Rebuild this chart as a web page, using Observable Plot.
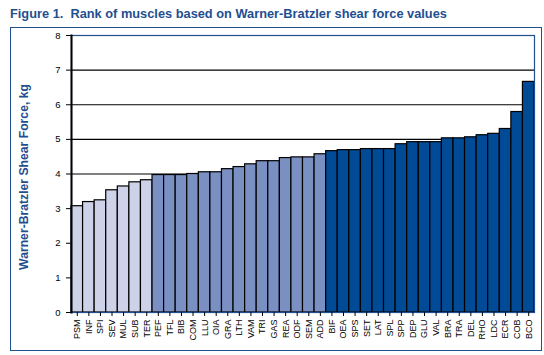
<!DOCTYPE html>
<html><head><meta charset="utf-8">
<script src="https://cdn.jsdelivr.net/npm/d3@7"></script>
<script src="https://cdn.jsdelivr.net/npm/@observablehq/plot@0.6"></script>
<style>
body{margin:0;background:#fff;font-family:"Liberation Sans",Arial,sans-serif;}
#title{position:absolute;left:10px;top:6px;font-weight:bold;font-size:12.8px;color:#1f4f8f;white-space:pre;}
#box{position:absolute;left:10px;top:27px;width:530px;height:322px;border:1.5px solid #1f4f8f;}
#box svg{position:absolute;left:0;top:0;}
</style></head>
<body>
<div id="title">Figure 1.  Rank of muscles based on Warner-Bratzler shear force values</div>
<div id="box"></div>
<script>
const muscles = ["PSM","INF","SPI","SEV","MUL","SUB","TER","PEF","TFL","BIB","COM","LLU","OIA","GRA","LTH","VAM","TRI","GAS","REA","ODF","SEM","ADD","BIF","OEA","SPS","SET","LAT","SPL","SPP","DEP","GLU","VAL","BRA","TRA","DEL","RHO","LDC","ECR","COB","BCO"];
const shearForce = [3.07,3.19,3.24,3.53,3.64,3.76,3.82,3.97,3.97,3.97,4.0,4.05,4.05,4.14,4.2,4.28,4.37,4.37,4.46,4.48,4.48,4.57,4.66,4.69,4.69,4.72,4.72,4.72,4.86,4.92,4.92,4.92,5.03,5.03,5.06,5.12,5.16,5.3,5.79,6.66];
const groups = ["low","low","low","low","low","low","low","mid","mid","mid","mid","mid","mid","mid","mid","mid","mid","mid","mid","mid","mid","mid","high","high","high","high","high","high","high","high","high","high","high","high","high","high","high","high","high","high"];
const yTicks = [0,1,2,3,4,5,6,7,8];
const gridTicks = [1,2,3,4,5,6,7];

const data = muscles.map((m,i)=>({muscle:m, value:shearForce[i], group:groups[i]}));

const chart = Plot.plot({
  width: 530, height: 322,
  marginLeft: 60, marginTop: 7, marginBottom: 38, marginRight: 7,
  style:{fontFamily:"'Liberation Sans', Arial, sans-serif", fontSize:"9px", color:"#000", background:"transparent", overflow:"visible"},
  x:{domain:muscles, padding:0, round:false, label:null},
  y:{domain:[0,8], label:null, ticks:yTicks},
  color:{domain:["low","mid","high"], range:["#cdd2e8","#7a8fc2","#004a96"]},
  marks:[
    Plot.ruleY(gridTicks,{stroke:"#000", strokeWidth:1.2}),
    Plot.barY(data,{x:"muscle", y:"value", fill:"group", stroke:"#000", strokeWidth:1.2, inset:0}),
    Plot.frame({stroke:"#1f4f8f", strokeWidth:1.2}),
    Plot.frame({anchor:"left", stroke:"#000", strokeWidth:2}),
    Plot.axisY({ticks:yTicks, tickSize:5, tickPadding:6, fontSize:9.5, stroke:"#000", color:"#000"}),
    Plot.axisX({tickSize:4, tickRotate:-90, tickPadding:3, fontSize:9, stroke:"#000"}),
    Plot.text(["Warner-Bratzler Shear Force, kg"],{frameAnchor:"left", dx:-47, dy:3, rotate:-90, textAnchor:"middle", fill:"#1f4f8f", fontWeight:"bold", fontSize:12.2})
  ]
});
document.getElementById("box").appendChild(chart);
</script>
</body></html>
